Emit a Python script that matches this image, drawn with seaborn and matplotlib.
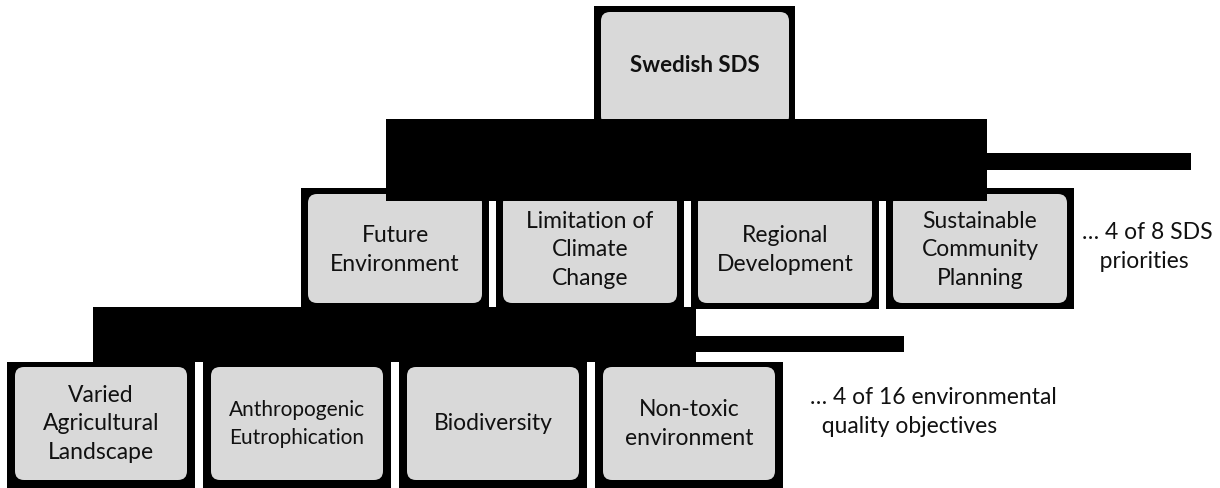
import matplotlib
matplotlib.use("Agg")
import matplotlib.pyplot as plt
from matplotlib.patches import Rectangle, FancyBboxPatch
import seaborn as sns

# ---- content ----
top_label = "Swedish SDS"
priority_labels = ["Future\nEnvironment", "Limitation of\nClimate\nChange",
                   "Regional\nDevelopment", "Sustainable\nCommunity\nPlanning"]
objective_labels = ["Varied\nAgricultural\nLandscape", "Anthropogenic\nEutrophication",
                    "Biodiversity", "Non-toxic\nenvironment"]
priority_note = "… 4 of 8 SDS\n   priorities"
objective_note = "… 4 of 16 environmental\n  quality objectives"

sns.set_theme(style="white")
plt.rcParams['font.family'] = ['Lato', 'DejaVu Sans']

W, H = 1220, 489
fig = plt.figure(figsize=(W / 100, H / 100), dpi=100)
ax = fig.add_axes([0, 0, 1, 1])
ax.set_xlim(0, W)
ax.set_ylim(H, 0)
ax.axis("off")

GREY = "#d9d9d9"
INK = "#111111"
LS = 1.45


def black_rect(x0, y0, x1, y1, z):
    ax.add_patch(Rectangle((x0, y0), x1 - x0, y1 - y0, facecolor="black",
                           edgecolor="none", linewidth=0, zorder=z))


def frame_box(x0, y0, x1, y1, inset=(7, 6, 6, 7), z=1):
    # black frame and rounded grey box inside
    black_rect(x0, y0, x1, y1, z)
    l, t, r, b = inset
    gx0, gy0, gx1, gy1 = x0 + l, y0 + t, x1 - r, y1 - b
    pad = 9
    ax.add_patch(FancyBboxPatch((gx0 + pad, gy0 + pad), gx1 - gx0 - 2 * pad,
                                gy1 - gy0 - 2 * pad,
                                boxstyle=f"round,pad={pad}",
                                facecolor=GREY, edgecolor="none", linewidth=0,
                                zorder=z + 0.1))
    return (gx0 + gx1) / 2, (gy0 + gy1) / 2


# top box
cx, cy = frame_box(594, 7, 795, 126, inset=(7, 6, 6, 0), z=1)
ax.text(cx, 66, top_label, ha="center", va="center", fontsize=16,
        fontweight="bold", color=INK, zorder=5)

# level 2 boxes
l2_x0, l2_step, l2_w = 301, 195, 188
for i, lab in enumerate(priority_labels):
    x0 = l2_x0 + i * l2_step
    frame_box(x0, 189, x0 + l2_w, 310, inset=(7, 6, 7, 6), z=1)
    ax.text(x0 + l2_w / 2, 250, lab, ha="center", va="center", fontsize=16.5,
            color=INK, linespacing=LS, zorder=5)

# band 1 (over level-2 tops)
black_rect(386, 120, 987, 202, 3)
black_rect(987, 154, 1191, 171, 3)

# level 3 boxes
l3_x0, l3_step, l3_w = 7, 196, 188
for i, lab in enumerate(objective_labels):
    x0 = l3_x0 + i * l3_step
    frame_box(x0, 363, x0 + l3_w, 489, inset=(8, 5, 8, 8), z=1)
    fs = 15 if i == 1 else 16.5
    ax.text(x0 + l3_w / 2, 424, lab, ha="center", va="center", fontsize=fs,
            color=INK, linespacing=LS, zorder=5)

# band 2
black_rect(93, 308, 696, 363, 3)
black_rect(696, 337, 904, 353, 3)

# notes
ax.text(1082, 247, priority_note, ha="left", va="center", fontsize=16.5,
        color=INK, linespacing=LS)
ax.text(810, 412, objective_note, ha="left", va="center", fontsize=16.5,
        color=INK, linespacing=LS)

fig.savefig("out.png", dpi=100)
